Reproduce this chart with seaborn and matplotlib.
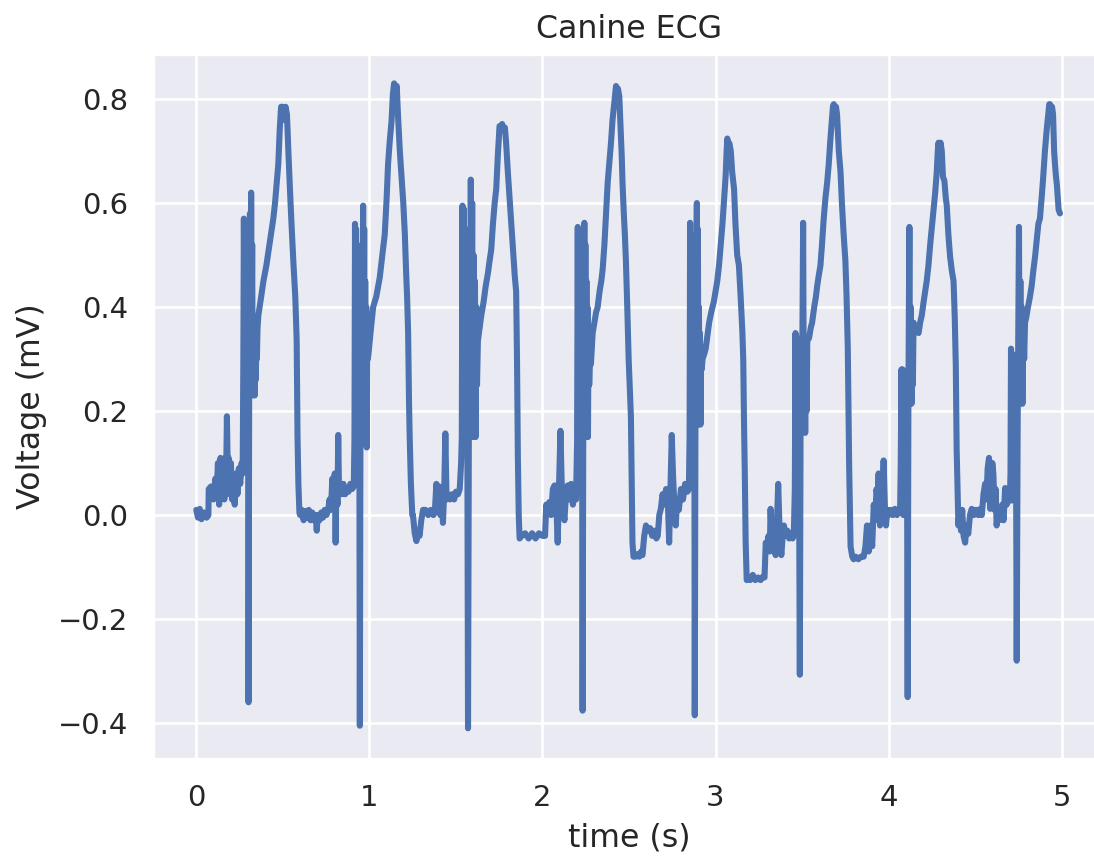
import numpy as np
import pandas as pd
import matplotlib
matplotlib.use("Agg")
import matplotlib.pyplot as plt
import seaborn as sns

# ---- data (time in s, voltage in mV) ----
beat1_t = [0.000, 0.010, 0.020, 0.030, 0.045, 0.060, 0.070, 0.072, 0.085, 0.098, 0.100, 0.110, 0.118, 0.125,
           0.132, 0.140, 0.148, 0.155, 0.162, 0.168, 0.172, 0.177, 0.182, 0.187, 0.193, 0.200, 0.207, 0.214,
           0.222, 0.230, 0.238, 0.246, 0.254, 0.262, 0.268,
           0.272, 0.275, 0.278, 0.281, 0.284, 0.287, 0.290, 0.293, 0.296, 0.299, 0.302, 0.306, 0.310, 0.314,
           0.317, 0.320, 0.323, 0.326, 0.329, 0.332, 0.335, 0.338, 0.341, 0.344, 0.347, 0.350, 0.354,
           0.359, 0.375, 0.388, 0.405, 0.427, 0.445, 0.455, 0.465, 0.474, 0.482, 0.490, 0.500, 0.508, 0.516,
           0.524, 0.532, 0.542, 0.551, 0.562, 0.572, 0.580, 0.585, 0.590, 0.596]
beat1_v = [0.010, -0.005, 0.012, -0.008, 0.005, -0.005, 0.000, 0.050, 0.055, 0.045, 0.030, 0.070, 0.040, 0.100,
           0.020, 0.110, 0.050, 0.090, 0.030, 0.110, 0.060, 0.190, 0.080, 0.110, 0.040, 0.100, 0.030, 0.060,
           0.020, 0.080, 0.040, 0.090, 0.060, 0.100, 0.080,
           0.300, 0.570, 0.350, 0.560, 0.250, 0.500, 0.300, 0.450, 0.230, 0.400, -0.360, 0.300, 0.580, 0.250,
           0.620, 0.350, 0.520, 0.230, 0.380, 0.240, 0.370, 0.230, 0.350, 0.260, 0.340, 0.300, 0.360,
           0.385, 0.420, 0.450, 0.480, 0.530, 0.570, 0.600, 0.640, 0.675, 0.740, 0.785, 0.785, 0.760, 0.785,
           0.770, 0.700, 0.620, 0.554, 0.480, 0.420, 0.336, 0.150, 0.060, 0.004]

beat2_t = [0.600, 0.610, 0.620, 0.630, 0.640, 0.650, 0.660, 0.670, 0.680, 0.690, 0.696, 0.702, 0.712, 0.722,
           0.732, 0.742, 0.752, 0.762, 0.770, 0.778, 0.786, 0.793, 0.800, 0.805, 0.810, 0.816, 0.820, 0.825,
           0.832, 0.840, 0.850, 0.860, 0.870, 0.880, 0.890, 0.900, 0.910,
           0.914, 0.917, 0.920, 0.923, 0.926, 0.929, 0.932, 0.935, 0.938, 0.941, 0.945, 0.949, 0.953, 0.957,
           0.961, 0.964, 0.967, 0.970, 0.973, 0.976, 0.979, 0.982, 0.985, 0.988, 0.991,
           0.995, 1.005, 1.022, 1.040, 1.060, 1.075, 1.089, 1.100, 1.108, 1.118, 1.128, 1.136, 1.143, 1.150,
           1.158, 1.166, 1.176, 1.186, 1.196, 1.205, 1.212, 1.218, 1.224, 1.229, 1.233, 1.240, 1.248]
beat2_v = [0.000, 0.010, -0.010, 0.008, -0.005, 0.010, -0.010, 0.005, -0.010, 0.000, -0.030, 0.000, -0.010, 0.005,
           -0.005, 0.010, 0.000, 0.010, 0.030, 0.010, 0.070, 0.030, 0.080, -0.053, 0.060, 0.020, 0.154, 0.040,
           0.060, 0.040, 0.060, 0.040, 0.050, 0.045, 0.060, 0.050, 0.055,
           0.150, 0.560, 0.300, 0.550, 0.200, 0.520, 0.250, 0.480, 0.200, 0.400, -0.405, 0.250, 0.500, 0.200,
           0.450, 0.595, 0.300, 0.550, 0.150, 0.450, 0.200, 0.400, 0.130, 0.350, 0.300,
           0.310, 0.345, 0.400, 0.420, 0.457, 0.500, 0.540, 0.610, 0.675, 0.720, 0.757, 0.810, 0.830, 0.800,
           0.825, 0.765, 0.700, 0.650, 0.600, 0.540, 0.470, 0.420, 0.350, 0.220, 0.150, 0.060, 0.000]

beat3_t = [1.252, 1.262, 1.272, 1.281, 1.290, 1.300, 1.310, 1.325, 1.340, 1.355, 1.370, 1.378, 1.387, 1.395,
           1.403, 1.410, 1.418, 1.425, 1.432, 1.439, 1.446, 1.454, 1.465, 1.478, 1.490, 1.500, 1.512, 1.522, 1.530,
           1.534, 1.538, 1.541, 1.544, 1.547, 1.550, 1.553, 1.556, 1.559, 1.562, 1.565, 1.570, 1.575, 1.578,
           1.582, 1.586, 1.590, 1.594, 1.598, 1.602, 1.606, 1.610, 1.614, 1.618, 1.622,
           1.627, 1.637, 1.647, 1.660, 1.672, 1.685, 1.695, 1.704, 1.714, 1.724, 1.733, 1.742, 1.752, 1.760,
           1.767, 1.775, 1.783, 1.790, 1.800, 1.810, 1.820, 1.830, 1.840, 1.848, 1.853, 1.858, 1.863, 1.868]
beat3_v = [0.000, -0.035, -0.050, -0.030, -0.040, -0.010, 0.010, 0.010, 0.000, 0.010, 0.000, 0.005, 0.060, 0.020,
           0.055, 0.000, 0.050, -0.015, 0.040, 0.157, 0.030, 0.040, 0.030, 0.040, 0.030, 0.045, 0.040, 0.050, 0.100,
           0.150, 0.595, 0.200, 0.590, 0.250, 0.550, 0.150, 0.500, 0.200, 0.450, 0.300, -0.410, 0.200, 0.550,
           0.250, 0.645, 0.300, 0.600, 0.150, 0.500, 0.250, 0.450, 0.150, 0.400, 0.250,
           0.335, 0.360, 0.385, 0.410, 0.440, 0.465, 0.490, 0.510, 0.560, 0.600, 0.627, 0.690, 0.748, 0.745,
           0.752, 0.740, 0.745, 0.716, 0.660, 0.610, 0.560, 0.510, 0.460, 0.430, 0.300, 0.110, 0.000, -0.045]

beat4_t = [1.880, 1.900, 1.920, 1.940, 1.960, 1.980, 2.000, 2.015, 2.022, 2.030, 2.040, 2.050, 2.060, 2.070,
           2.080, 2.088, 2.096, 2.104, 2.112, 2.120, 2.127, 2.136, 2.146, 2.156, 2.166, 2.176, 2.186, 2.194, 2.200,
           2.204, 2.207, 2.210, 2.213, 2.216, 2.219, 2.222, 2.225, 2.228, 2.232, 2.236, 2.239, 2.242, 2.245,
           2.248, 2.251, 2.254, 2.257, 2.260, 2.263, 2.266, 2.270, 2.275, 2.280,
           2.290, 2.300, 2.310, 2.319, 2.330, 2.340, 2.348, 2.358, 2.367, 2.377, 2.387, 2.396, 2.405, 2.414,
           2.420, 2.425, 2.430, 2.436, 2.444, 2.452, 2.458, 2.463, 2.470, 2.476, 2.482, 2.490, 2.498, 2.505,
           2.511, 2.516, 2.520, 2.526]
beat4_v = [-0.040, -0.035, -0.045, -0.035, -0.045, -0.035, -0.040, -0.040, 0.020, 0.010, 0.025, 0.000, 0.050, 0.057,
           0.020, -0.053, 0.060, 0.162, 0.050, 0.010, -0.010, 0.040, 0.057, 0.030, 0.060, 0.020, 0.050, 0.030, 0.140,
           0.554, 0.200, 0.540, 0.250, 0.500, 0.200, 0.450, 0.300, 0.350, -0.376, 0.200, 0.400, 0.562, 0.250,
           0.520, 0.150, 0.450, 0.200, 0.400, 0.150, 0.350, 0.250, 0.300, 0.290,
           0.350, 0.370, 0.390, 0.400, 0.430, 0.450, 0.473, 0.520, 0.578, 0.640, 0.680, 0.716, 0.760, 0.790,
           0.810, 0.825, 0.800, 0.820, 0.805, 0.740, 0.690, 0.635, 0.580, 0.540, 0.490, 0.400, 0.300, 0.240,
           0.190, 0.050, -0.053, -0.080]

beat5_t = [2.540, 2.550, 2.560, 2.570, 2.578, 2.588, 2.598, 2.610, 2.622, 2.634, 2.646, 2.658, 2.666, 2.675,
           2.684, 2.694, 2.704, 2.714, 2.724, 2.732, 2.740, 2.747, 2.754, 2.762, 2.770, 2.778, 2.788, 2.800,
           2.812, 2.824, 2.838, 2.846,
           2.850, 2.853, 2.856, 2.859, 2.862, 2.865, 2.868, 2.871, 2.874, 2.877, 2.880, 2.884, 2.888, 2.892,
           2.895, 2.898, 2.901, 2.904, 2.907, 2.910, 2.913, 2.916, 2.920,
           2.925, 2.935, 2.943, 2.953, 2.963, 2.975, 2.990, 3.000, 3.010, 3.020, 3.030, 3.040, 3.050, 3.058,
           3.064, 3.068, 3.074, 3.080, 3.088, 3.096, 3.107, 3.115, 3.125, 3.135, 3.145, 3.155, 3.160, 3.164,
           3.169, 3.174, 3.180]
beat5_v = [-0.080, -0.075, -0.080, -0.070, -0.077, -0.040, -0.020, -0.030, -0.025, -0.040, -0.030, -0.045, -0.040, 0.000,
           0.012, 0.040, 0.020, 0.050, 0.030, -0.053, 0.060, 0.154, 0.080, 0.020, -0.020, 0.030, 0.010, 0.050,
           0.030, 0.060, 0.045, 0.050,
           0.150, 0.562, 0.250, 0.540, 0.200, 0.500, 0.300, 0.450, 0.250, 0.350, -0.385, 0.200, 0.450, 0.600,
           0.250, 0.550, 0.174, 0.400, 0.200, 0.350, 0.174, 0.300, 0.280,
           0.300, 0.310, 0.320, 0.345, 0.370, 0.390, 0.410, 0.430, 0.450, 0.480, 0.520, 0.560, 0.610, 0.650,
           0.700, 0.724, 0.710, 0.715, 0.700, 0.660, 0.627, 0.560, 0.500, 0.480, 0.420, 0.352, 0.300, 0.190,
           0.080, -0.053, -0.125]

beat6_t = [3.190, 3.200, 3.215, 3.230, 3.245, 3.260, 3.275, 3.283, 3.290, 3.298, 3.306, 3.313, 3.318, 3.325,
           3.333, 3.340, 3.347, 3.355, 3.362, 3.370, 3.380, 3.388, 3.395, 3.405, 3.415, 3.425, 3.435, 3.445, 3.452,
           3.458, 3.462, 3.466, 3.470, 3.474, 3.478, 3.482, 3.487, 3.491, 3.495, 3.499, 3.503, 3.506, 3.510,
           3.514, 3.518, 3.522, 3.526, 3.530,
           3.540, 3.550, 3.558, 3.570, 3.580, 3.587, 3.596, 3.606, 3.615, 3.625, 3.635, 3.645, 3.654, 3.663,
           3.672, 3.678, 3.683, 3.690, 3.696, 3.702, 3.712, 3.722, 3.730, 3.740, 3.750, 3.757, 3.764, 3.768,
           3.772, 3.780, 3.790, 3.798]
beat6_v = [-0.120, -0.125, -0.115, -0.125, -0.120, -0.125, -0.118, -0.120, -0.053, -0.060, -0.040, -0.070, 0.012, -0.050,
           -0.030, -0.060, -0.077, -0.010, 0.060, -0.030, -0.077, -0.040, -0.020, -0.040, -0.030, -0.045, -0.035, -0.045, -0.040,
           0.050, 0.350, 0.030, 0.340, 0.150, 0.330, 0.100, -0.307, 0.150, 0.340, 0.200, 0.400, 0.562, 0.200,
           0.340, 0.158, 0.330, 0.200, 0.336,
           0.340, 0.360, 0.370, 0.400, 0.420, 0.440, 0.460, 0.480, 0.520, 0.570, 0.610, 0.640, 0.675, 0.720,
           0.760, 0.785, 0.790, 0.770, 0.785, 0.770, 0.700, 0.660, 0.600, 0.540, 0.490, 0.420, 0.320, 0.200,
           0.093, -0.060, -0.080, -0.085]

beat7_t = [3.810, 3.825, 3.840, 3.856, 3.866, 3.875, 3.885, 3.895, 3.905, 3.914, 3.922, 3.930, 3.936, 3.942,
           3.950, 3.957, 3.964, 3.971, 3.978, 3.985, 3.992, 4.000, 4.012, 4.024, 4.036, 4.048, 4.058, 4.066, 4.070,
           4.074, 4.077, 4.081, 4.085, 4.089, 4.093, 4.097, 4.101, 4.105, 4.110, 4.114, 4.117, 4.120, 4.124,
           4.128, 4.132, 4.136, 4.140, 4.144,
           4.150, 4.160, 4.173, 4.182, 4.192, 4.202, 4.211, 4.220, 4.230, 4.240, 4.250, 4.260, 4.269, 4.278,
           4.284, 4.288, 4.294, 4.300, 4.307, 4.314, 4.322, 4.330, 4.336, 4.345, 4.355, 4.365, 4.375, 4.382,
           4.388, 4.393, 4.398, 4.403]
beat7_v = [-0.080, -0.085, -0.080, -0.080, -0.060, -0.020, -0.070, -0.020, -0.060, 0.020, -0.010, 0.050, 0.030, 0.080,
           -0.020, 0.060, 0.030, 0.105, 0.020, -0.020, 0.010, 0.000, 0.010, 0.000, 0.012, 0.000, 0.010, 0.005, 0.100,
           0.280, 0.100, 0.280, 0.000, 0.270, 0.200, 0.260, 0.150, 0.250, -0.350, 0.200, 0.400, 0.554, 0.214,
           0.400, 0.214, 0.350, 0.250, 0.370,
           0.360, 0.355, 0.350, 0.370, 0.385, 0.410, 0.430, 0.450, 0.480, 0.520, 0.554, 0.590, 0.620, 0.660,
           0.700, 0.716, 0.700, 0.716, 0.700, 0.650, 0.643, 0.610, 0.595, 0.540, 0.497, 0.470, 0.450, 0.380,
           0.287, 0.125, 0.050, -0.020]

beat8_t = [4.410, 4.418, 4.425, 4.433, 4.442, 4.450, 4.460, 4.470, 4.480, 4.492, 4.505, 4.518, 4.530, 4.538,
           4.548, 4.557, 4.565, 4.572, 4.580, 4.587, 4.593, 4.599, 4.605, 4.612, 4.618, 4.624, 4.632, 4.640,
           4.648, 4.656, 4.664, 4.673, 4.682, 4.692, 4.700,
           4.704, 4.707, 4.711, 4.715, 4.719, 4.723, 4.727, 4.731, 4.735, 4.740, 4.745, 4.749, 4.753, 4.757,
           4.761, 4.765, 4.769, 4.773, 4.778, 4.783, 4.788,
           4.795, 4.805, 4.815, 4.826, 4.836, 4.846, 4.856, 4.865, 4.874, 4.884, 4.893, 4.903, 4.913, 4.922,
           4.928, 4.932, 4.938, 4.944, 4.950, 4.956, 4.961, 4.967, 4.972, 4.977, 4.982, 4.990]
beat8_v = [0.010, -0.030, 0.010, -0.040, -0.053, -0.020, -0.036, 0.000, 0.012, 0.000, 0.010, 0.000, 0.012, 0.000,
           0.040, 0.060, 0.030, 0.090, 0.110, 0.012, 0.060, 0.100, 0.080, 0.010, 0.050, -0.020, 0.010, -0.010,
           0.000, 0.020, -0.010, 0.052, 0.020, 0.040, 0.028,
           0.080, 0.320, 0.028, 0.310, 0.150, 0.290, 0.100, 0.270, 0.200, -0.280, 0.150, 0.350, 0.554, 0.214,
           0.450, 0.220, 0.400, 0.214, 0.380, 0.300, 0.370,
           0.380, 0.400, 0.417, 0.440, 0.470, 0.497, 0.530, 0.560, 0.570, 0.610, 0.650, 0.700, 0.740, 0.770,
           0.790, 0.790, 0.760, 0.785, 0.770, 0.700, 0.675, 0.650, 0.635, 0.610, 0.587, 0.580]

title = "Canine ECG"
x_label = "time (s)"
y_label = "Voltage (mV)"

# ---- build table ----
times = beat1_t + beat2_t + beat3_t + beat4_t + beat5_t + beat6_t + beat7_t + beat8_t
volts = beat1_v + beat2_v + beat3_v + beat4_v + beat5_v + beat6_v + beat7_v + beat8_v
df = pd.DataFrame({"time": times, "voltage": volts})

sns.set_theme(style="darkgrid")
plt.rcParams["font.family"] = ["DejaVu Sans"]

W, H, DPI = 1094, 856, 190
fig = plt.figure(figsize=(W / DPI, H / DPI), dpi=DPI)
ax = fig.add_axes([153 / W, 1 - 759 / H, 952 / W, 705 / H])

sns.lineplot(data=df, x="time", y="voltage", ax=ax, estimator=None, sort=False,
             color="#4c72b0", linewidth=2.3)

ax.set_xlim(-0.25, 5.25)
ax.set_ylim(-0.469, 0.8865)
ax.set_xticks([0, 1, 2, 3, 4, 5])
ax.set_yticks([-0.4, -0.2, 0.0, 0.2, 0.4, 0.6, 0.8])
ax.set_title(title)
ax.set_xlabel(x_label)
ax.set_ylabel(y_label)

fig.savefig("out.png", dpi=DPI)
